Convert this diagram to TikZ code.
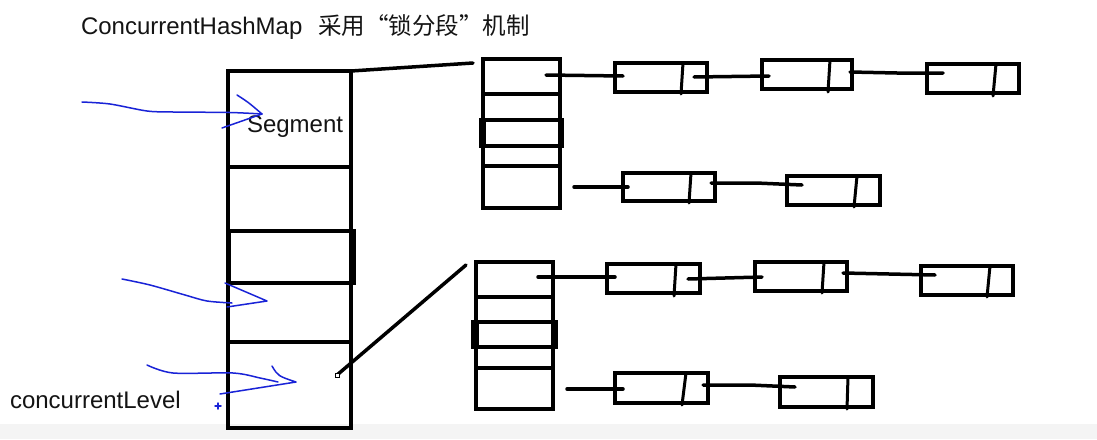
\documentclass[tikz,border=0pt]{standalone}
\usepackage{fontspec}
\setmainfont{Liberation Sans}
\newfontfamily\cjk{Noto Sans CJK SC}
\definecolor{ink}{RGB}{20,20,20}
\definecolor{blueink}{RGB}{25,35,215}
\definecolor{band}{RGB}{244,244,244}
\begin{document}
\begin{tikzpicture}[x=1pt,y=-1pt,
  box/.style={draw=black, line width=4pt, inner sep=0pt, outer sep=0pt, anchor=north west},
  lbox/.style={draw=black, line width=3.5pt, inner sep=0pt, outer sep=0pt, anchor=north west},
  rowline/.style={line width=4pt},
  div/.style={line width=3pt, line cap=round},
  wire/.style={line width=3.5pt, line cap=round},
  pen/.style={draw=blueink, line width=1.5pt, line cap=round, line join=round},
  txt/.style={inner sep=0pt, outer sep=0pt, text=ink, font=\fontsize{24}{28}\selectfont}
]
\path[use as bounding box, fill=white] (0,0) rectangle (1097,439);
\fill[band] (0,424) rectangle (1097,439);

% title
\node[txt, anchor=base west] (title) at (81,34) {ConcurrentHashMap\hspace{16pt}{\cjk\fontsize{23.5}{28}\selectfont 采用“锁分段”机制}};

% main segment array
\node[box, minimum width=123, minimum height=357] (arr) at (228,71) {};
\draw[rowline] (228,167) -- (351,167);
\draw[rowline] (228,342) -- (351,342);
\node[box, minimum width=122, minimum height=52] (arrsel) at (229,231) {};
\draw[line width=7pt] (352,229) -- (352,285);
\node[txt, anchor=base west] (seg) at (247,132) {Segment};
\node[txt, anchor=base west] (lvl) at (10,408) {concurrentLevel};

% bucket 1
\node[lbox, line width=4pt, minimum width=77, minimum height=149] (b1) at (483,59) {};
\draw[rowline] (483,94) -- (560,94);
\draw[rowline] (483,166) -- (560,166);
\node[box, minimum width=81, minimum height=26] (b1sel) at (481,120) {};
\draw[line width=7pt] (482.5,118) -- (482.5,148);

% bucket 2
\node[lbox, line width=4pt, minimum width=77, minimum height=147] (b2) at (476,262) {};
\draw[rowline] (476,297) -- (553,297);
\draw[rowline] (476,368) -- (553,368);
\node[box, minimum width=83, minimum height=25] (b2sel) at (473,322) {};
\draw[line width=7pt] (475,320) -- (475,349);

% connectors from array to buckets
\coordinate (c1) at (473,63);
\coordinate (c2s) at (337,375);
\coordinate (c2) at (466,265);
\draw[wire] (arr.north east) -- (c1);
\draw[wire] (c2s) -- (c2);
\draw[line width=0.8pt, fill=white] (335,373) rectangle (339,377);

% list nodes
\newcommand\lnode[8]{%
  \node[lbox, minimum width={#4-#2}, minimum height={#5-#3}] (#1) at (#2,#3) {};
  \draw[div] (#6,#3) -- (#7,#8);}
\lnode{n1}{615}{63}{707}{92}{683}{681}{94}
\lnode{n2}{762}{60}{852}{89}{830}{828}{92}
\lnode{n3}{927}{64}{1019}{93}{996}{993}{96}
\lnode{n4}{623}{173}{715}{201}{691}{689}{203}
\lnode{n5}{787}{176}{880}{205}{857}{854}{207}
\lnode{n6}{607}{264}{700}{293}{676}{674}{296}
\lnode{n7}{755}{262}{847}{291}{824}{822}{293}
\lnode{n8}{921}{266}{1013}{295}{990}{987}{297}
\lnode{n9}{615}{373}{708}{403}{686}{682}{405}
\lnode{n10}{780}{377}{873}{407}{848}{847}{409}

% pointer coordinates
\coordinate (b1a) at (546,75);   \coordinate (n1i) at (623,76);
\coordinate (n1o) at (694,77);   \coordinate (n2i) at (769,76);
\coordinate (n2o) at (850,72);   \coordinate (n3i) at (943,73);
\coordinate (b1b) at (574,187);  \coordinate (n4i) at (628,187);
\coordinate (n4o) at (711,183);  \coordinate (n5i) at (802,185);
\coordinate (b2a) at (538,277);  \coordinate (n6i) at (615,277);
\coordinate (n6o) at (688,279);  \coordinate (n7i) at (762,277);
\coordinate (n7o) at (843,273);  \coordinate (n8i) at (935,275);
\coordinate (b2b) at (567,389);  \coordinate (n9i) at (623,389);
\coordinate (n9o) at (703,385);  \coordinate (n10i) at (795,387);

\draw[wire] (b1a) -- (n1i);
\draw[wire] (n1o) -- (n2i);
\draw[wire] (n2o) -- (897,73) -- (n3i);
\draw[wire] (b1b) -- (n4i);
\draw[wire] (n4o) -- (756,183) -- (n5i);
\draw[wire] (b2a) -- (n6i);
\draw[wire] (n6o) -- (n7i);
\draw[wire] (n7o) -- (889,274) -- (n8i);
\draw[wire] (b2b) -- (n9i);
\draw[wire] (n9o) -- (750,385) -- (n10i);

% blue hand-drawn arrows
\draw[pen] plot[smooth] coordinates {(82,102) (110,104) (147,111) (173,112) (230,112.5) (262,114)};
\draw[pen] (237,95) .. controls (248,102) .. (262,114) -- (222,128);
\draw[pen] plot[smooth] coordinates {(122,279) (150,285) (185,295) (207,301) (232,303)};
\draw[pen] (225,283) -- (267,301) -- (227,307);
\draw[pen] plot[smooth] coordinates {(147,365) (173,373) (233,373) (260,378) (278,382)};
\draw[pen] (272,366) .. controls (278,376) .. (296,382) -- (220,394);
\draw[pen] (215,406) -- (221,406);
\draw[pen] (218,403) -- (218,409);
\end{tikzpicture}
\end{document}
